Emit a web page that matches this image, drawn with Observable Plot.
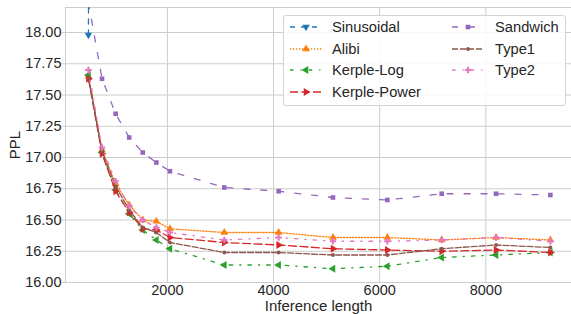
<!DOCTYPE html>
<html><head><meta charset="utf-8">
<script src="https://cdn.jsdelivr.net/npm/d3@7"></script>
<script src="https://cdn.jsdelivr.net/npm/@observablehq/plot@0.6"></script>
<style>
body{margin:0;background:#fff;}
#wrap{position:relative;width:571px;height:314px;font-family:"Liberation Sans",Arial,sans-serif;}
#legend{position:absolute;left:283px;top:15px;width:283px;height:91px;border:1px solid #d3d3d3;border-radius:3px;background:rgba(255,255,255,0.85);box-sizing:border-box;}
.item{position:absolute;height:20px;display:flex;align-items:center;font-size:14.7px;color:#262626;white-space:nowrap;}
.item svg{display:block;}
g[aria-label$="axis label"] text{font-size:15px;}
</style></head><body><div id="wrap"><div id="legend"></div></div>
<script>
const lengths = [512, 768, 1024, 1280, 1536, 1792, 2048, 3072, 4096, 5120, 6144, 7168, 8192, 9216];
const sinusoidal = [17.98, 60];
const alibi = [17.65, 17.06, 16.79, 16.62, 16.50, 16.49, 16.43, 16.40, 16.40, 16.36, 16.36, 16.34, 16.36, 16.34];
const kerpleLog = [17.66, 17.04, 16.74, 16.55, 16.42, 16.34, 16.27, 16.14, 16.14, 16.11, 16.13, 16.20, 16.22, 16.24];
const kerplePower = [17.63, 17.03, 16.73, 16.56, 16.43, 16.42, 16.36, 16.32, 16.30, 16.27, 16.26, 16.25, 16.26, 16.24];
const sandwich = [18.24, 17.63, 17.35, 17.16, 17.04, 16.96, 16.89, 16.76, 16.73, 16.68, 16.66, 16.71, 16.71, 16.70];
const type1 = [17.64, 17.05, 16.77, 16.58, 16.44, 16.40, 16.32, 16.24, 16.24, 16.22, 16.22, 16.27, 16.30, 16.28];
const type2 = [17.70, 17.08, 16.81, 16.61, 16.50, 16.44, 16.40, 16.34, 16.36, 16.33, 16.33, 16.34, 16.36, 16.33];
const seriesNames = ["Sinusoidal", "Alibi", "Kerple-Log", "Kerple-Power", "Sandwich", "Type1", "Type2"];
const xTicks = [2000, 4000, 6000, 8000];
const yTicks = [16.00, 16.25, 16.50, 16.75, 17.00, 17.25, 17.50, 17.75, 18.00];
const xDomain = [80, 9614];
const yDomain = [16, 18.2];

const styles = [
  {color:"#1f77b4", dash:"5,6", symbol:"triangle", rotate:180, r:2.8},
  {color:"#ff7f0e", dash:"1.3,1.7", symbol:"triangle", rotate:0, r:2.9},
  {color:"#2ca02c", dash:"3.5,7,1.2,7", symbol:"triangle", rotate:-90, r:2.9},
  {color:"#d62728", dash:"8,3.5", symbol:"triangle", rotate:90, r:2.9},
  {color:"#9467bd", dash:"6,11", symbol:"square", rotate:0, r:2.6},
  {color:"#8c564b", dash:"6,2", symbol:"circle", rotate:0, r:1.9},
  {color:"#e377c2", dash:"3.5,7,1.2,7", symbol:"cross", rotate:0, r:2.7}
];
const values = [sinusoidal, alibi, kerpleLog, kerplePower, sandwich, type1, type2];

const marks = [
  Plot.gridX(xTicks, {stroke:"#cccccc", strokeOpacity:1, strokeWidth:1}),
  Plot.gridY(yTicks, {stroke:"#cccccc", strokeOpacity:1, strokeWidth:1}),
  Plot.ruleX([xDomain[0]], {stroke:"#cccccc", strokeWidth:1}),
  Plot.ruleY(yDomain, {stroke:"#cccccc", strokeWidth:1}),
  Plot.axisX(xTicks, {tickSize:0, tickPadding:2, fontSize:14.5, tickFormat:d3.format("d"), label:"Inference length", labelArrow:"none", labelAnchor:"center", labelOffset:28}),
  Plot.axisY(yTicks, {tickSize:3.5, tickPadding:0.5, stroke:"#cccccc", fill:"#262626", fontSize:14.5, tickFormat:d3.format(".2f"), label:"PPL", labelArrow:"none", labelAnchor:"center", labelOffset:56})
];
values.forEach((vals, k) => {
  const s = styles[k];
  const data = lengths.map((x, i) => ({x, y: vals[i]})).filter(d => d.y != null);
  marks.push(Plot.line(data, {x:"x", y:"y", stroke:s.color, strokeWidth:1.3, strokeDasharray:s.dash, clip:true}));
  marks.push(Plot.dot(data, {x:"x", y:"y", symbol:s.symbol, rotate:s.rotate, r:s.r, fill:s.color, clip:true}));
});

const chart = Plot.plot({
  width:571, height:314,
  marginLeft:65, marginRight:0, marginTop:7, marginBottom:32,
  x:{domain:xDomain, label:null},
  y:{domain:yDomain, label:null},
  style:{fontFamily:"'Liberation Sans', Arial, sans-serif", fontSize:"14.5px", color:"#262626", background:"white", overflow:"visible"},
  marks
});
document.getElementById("wrap").prepend(chart);

// legend
const legend = d3.select("#legend");
const colLeft = [[6, 48], [168, 211]];
const symMap = {triangle:d3.symbolTriangle, square:d3.symbolSquare, circle:d3.symbolCircle, cross:d3.symbolCross};
seriesNames.forEach((name, k) => {
  const s = styles[k];
  const col = k < 4 ? 0 : 1;
  const row = k < 4 ? k : k - 4;
  const item = legend.append("div").attr("class", "item")
    .style("left", colLeft[col][0] + "px").style("top", (1 + row * 21.7) + "px");
  const svg = item.append("svg").attr("width", 32).attr("height", 12);
  svg.append("line").attr("x1", 0).attr("x2", 32).attr("y1", 6).attr("y2", 6)
    .attr("stroke", s.color).attr("stroke-width", 1.3).attr("stroke-dasharray", s.dash);
  svg.append("path").attr("d", d3.symbol(symMap[s.symbol], Math.PI * s.r * s.r)())
    .attr("transform", `translate(16,6) rotate(${s.rotate})`).attr("fill", s.color);
  item.append("span").text(name).style("margin-left", (colLeft[col][1] - colLeft[col][0] - 32) + "px");
});
</script></body></html>
